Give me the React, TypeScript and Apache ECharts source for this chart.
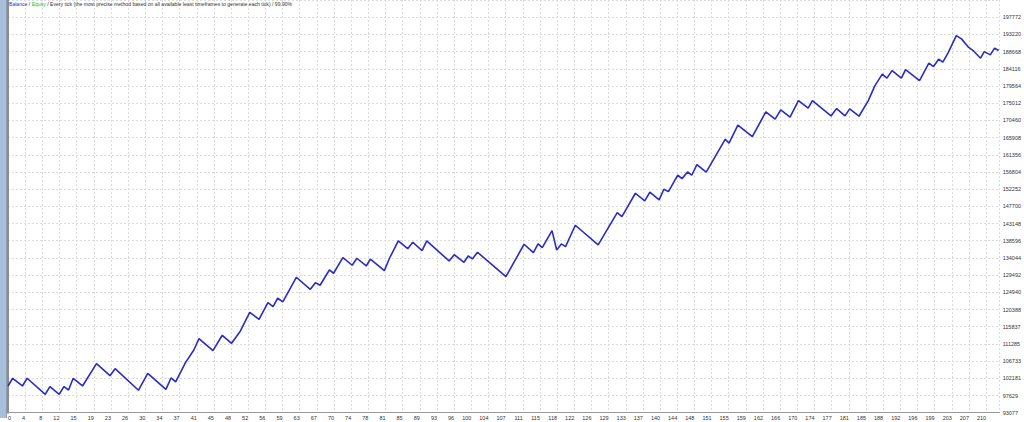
import React, { useEffect, useRef } from 'react';
import * as echarts from 'echarts';

const seriesBalance = 'Balance';
const seriesEquity = 'Equity';
const titleRest = ' / Every tick (the most precise method based on all available least timeframes to generate each tick) / 99.90%';

const xTickLabels = ['0', '4', '8', '12', '15', '19', '23', '26', '30', '34', '37', '41', '45', '48', '52', '56', '59', '63', '67', '70', '74', '78', '81', '85', '89', '93', '96', '100', '104', '107', '111', '115', '118', '122', '126', '129', '133', '137', '140', '144', '148', '151', '155', '159', '162', '166', '170', '174', '177', '181', '185', '188', '192', '196', '199', '203', '207', '210'];
const yTickLabels = ['93077', '97629', '102181', '106733', '111285', '115837', '120388', '124940', '129492', '134044', '138596', '143148', '147700', '152252', '156804', '161356', '165908', '170460', '175012', '179564', '184116', '188668', '193220', '197772'];

const yMin = 93077;
const yStep = 4551.9565;
const xStep = 210 / 57;
const xMax = 212.9;

const tradeIndex = [0, 1, 3.1, 4.1, 8, 9, 11, 12, 13, 14, 16, 19, 21.9, 23, 28, 30, 33.9, 35, 36, 38.1, 39.9, 41, 44, 46, 48, 49.9, 51.9, 53.9, 55.8, 56.9, 57.9, 59, 61.9, 64.9, 66, 67, 69, 69.9, 71.9, 73.9, 74.9, 76.9, 77.8, 80.8, 81.9, 83.8, 85.8, 86.9, 88.9, 89.9, 94.7, 95.8, 97.9, 98.8, 99.7, 100.8, 106.9, 110.8, 112.8, 113.8, 114.7, 116.8, 117.8, 118.8, 119.7, 121.8, 126.7, 130.8, 131.8, 134.7, 136.7, 137.8, 139.8, 140.8, 141.8, 143.3, 143.8, 144.7, 145.9, 146.8, 147.9, 149.9, 154, 154.8, 156.7, 159.8, 162.7, 164.7, 165.9, 167.9, 169.7, 171.8, 172.7, 176.7, 177.9, 179.7, 180.7, 182.7, 184.7, 186.1, 187.7, 188.7, 189.8, 191.8, 192.7, 195.7, 197.7, 198.7, 199.8, 200.7, 201.8, 203.6, 204.7, 206.2, 207.2, 208.8, 209.6, 210.9, 211.8, 212.7];

const balance = [100150, 102190, 100150, 102190, 97950, 99960, 97950, 99960, 99090, 102190, 100150, 106050, 102880, 104730, 99010, 103510, 99270, 102270, 101210, 106320, 109680, 112670, 109500, 113570, 111450, 114710, 119660, 117810, 122210, 121150, 123370, 122390, 128930, 125750, 127500, 126810, 130860, 129990, 134120, 132110, 133960, 131920, 133700, 130680, 133960, 138540, 136500, 138200, 135980, 138540, 133250, 134920, 132900, 134570, 133780, 135550, 129090, 137670, 135450, 137750, 136770, 141270, 136160, 137750, 137030, 142700, 137480, 146040, 144980, 151170, 149140, 151440, 149400, 152230, 151600, 154880, 155940, 155040, 156810, 155940, 158750, 156740, 165470, 164410, 169180, 166160, 172700, 170770, 173230, 171300, 175700, 173680, 175700, 171640, 173580, 171640, 173500, 171560, 175700, 179590, 182690, 181630, 183640, 181630, 183900, 180990, 185600, 184700, 186660, 185860, 188250, 192910, 192030, 189840, 188940, 186920, 188670, 187800, 189570, 188940];

const FONT = 'Liberation Sans';

export default function App() {
  const ref = useRef<HTMLDivElement>(null);
  useEffect(() => {
    const chart = echarts.init(ref.current as HTMLDivElement, null, { renderer: 'svg' });
    chart.setOption({
      animation: false,
      backgroundColor: '#ffffff',
      title: {
        text: '{b|' + seriesBalance + '} / {e|' + seriesEquity + '}' + titleRest,
        left: 9,
        top: 1.5,
        padding: 0,
        textStyle: {
          fontSize: 5.1,
          fontWeight: 'normal',
          fontFamily: FONT,
          color: '#333333',
          rich: {
            b: { color: '#2a2ad0', fontSize: 5.1, fontFamily: FONT },
            e: { color: '#22bb22', fontSize: 5.1, fontFamily: FONT },
          },
        },
      },
      grid: { left: 8, right: 22, top: 0, bottom: 9.3, containLabel: false },
      xAxis: {
        type: 'value',
        min: 0,
        max: xMax,
        interval: xStep,
        axisLine: { show: true, onZero: false, lineStyle: { color: '#9a9a9a', width: 1 } },
        axisTick: { show: false },
        splitLine: { show: true, lineStyle: { color: '#dcdcdc', type: [2, 2], width: 1 } },
        axisLabel: {
          formatter: (v: number) => xTickLabels[Math.round(v / xStep)] ?? '',
          fontSize: 5.5,
          fontFamily: FONT,
          color: '#333333',
          margin: 2,
          align: 'right',
          alignMinLabel: 'left',
          hideOverlap: false,
        },
      },
      yAxis: {
        type: 'value',
        position: 'right',
        min: yMin,
        max: yMin + 24 * yStep,
        interval: yStep,
        axisLine: { show: true, lineStyle: { color: '#8c8c8c', width: 2 } },
        axisTick: { show: false },
        splitLine: { show: true, lineStyle: { color: '#dcdcdc', type: [2, 2], width: 1 } },
        axisLabel: {
          formatter: (v: number) => yTickLabels[Math.round((v - yMin) / yStep)] ?? '',
          fontSize: 5.5,
          fontFamily: FONT,
          color: '#333333',
          margin: 3,
          hideOverlap: false,
        },
      },
      graphic: [
        { type: 'rect', shape: { x: 0, y: 0, width: 6, height: 418 }, style: { fill: '#a9bfd9' }, silent: true },
        { type: 'line', shape: { x1: 6.5, y1: 0, x2: 6.5, y2: 418 }, style: { stroke: '#8f9fb3', lineWidth: 1 }, silent: true },
      ],
      series: [
        {
          name: seriesBalance,
          type: 'line',
          data: tradeIndex.map((x, i) => [x, balance[i]]),
          showSymbol: false,
          symbol: 'none',
          silent: true,
          lineStyle: { color: '#2b2bc6', width: 1.6 },
        },
      ],
    });
    return () => chart.dispose();
  }, []);
  return (
    <div
      ref={ref}
      style={{ position: 'fixed', left: 0, top: 0, width: 1024, height: 422, background: '#ffffff' }}
    />
  );
}
